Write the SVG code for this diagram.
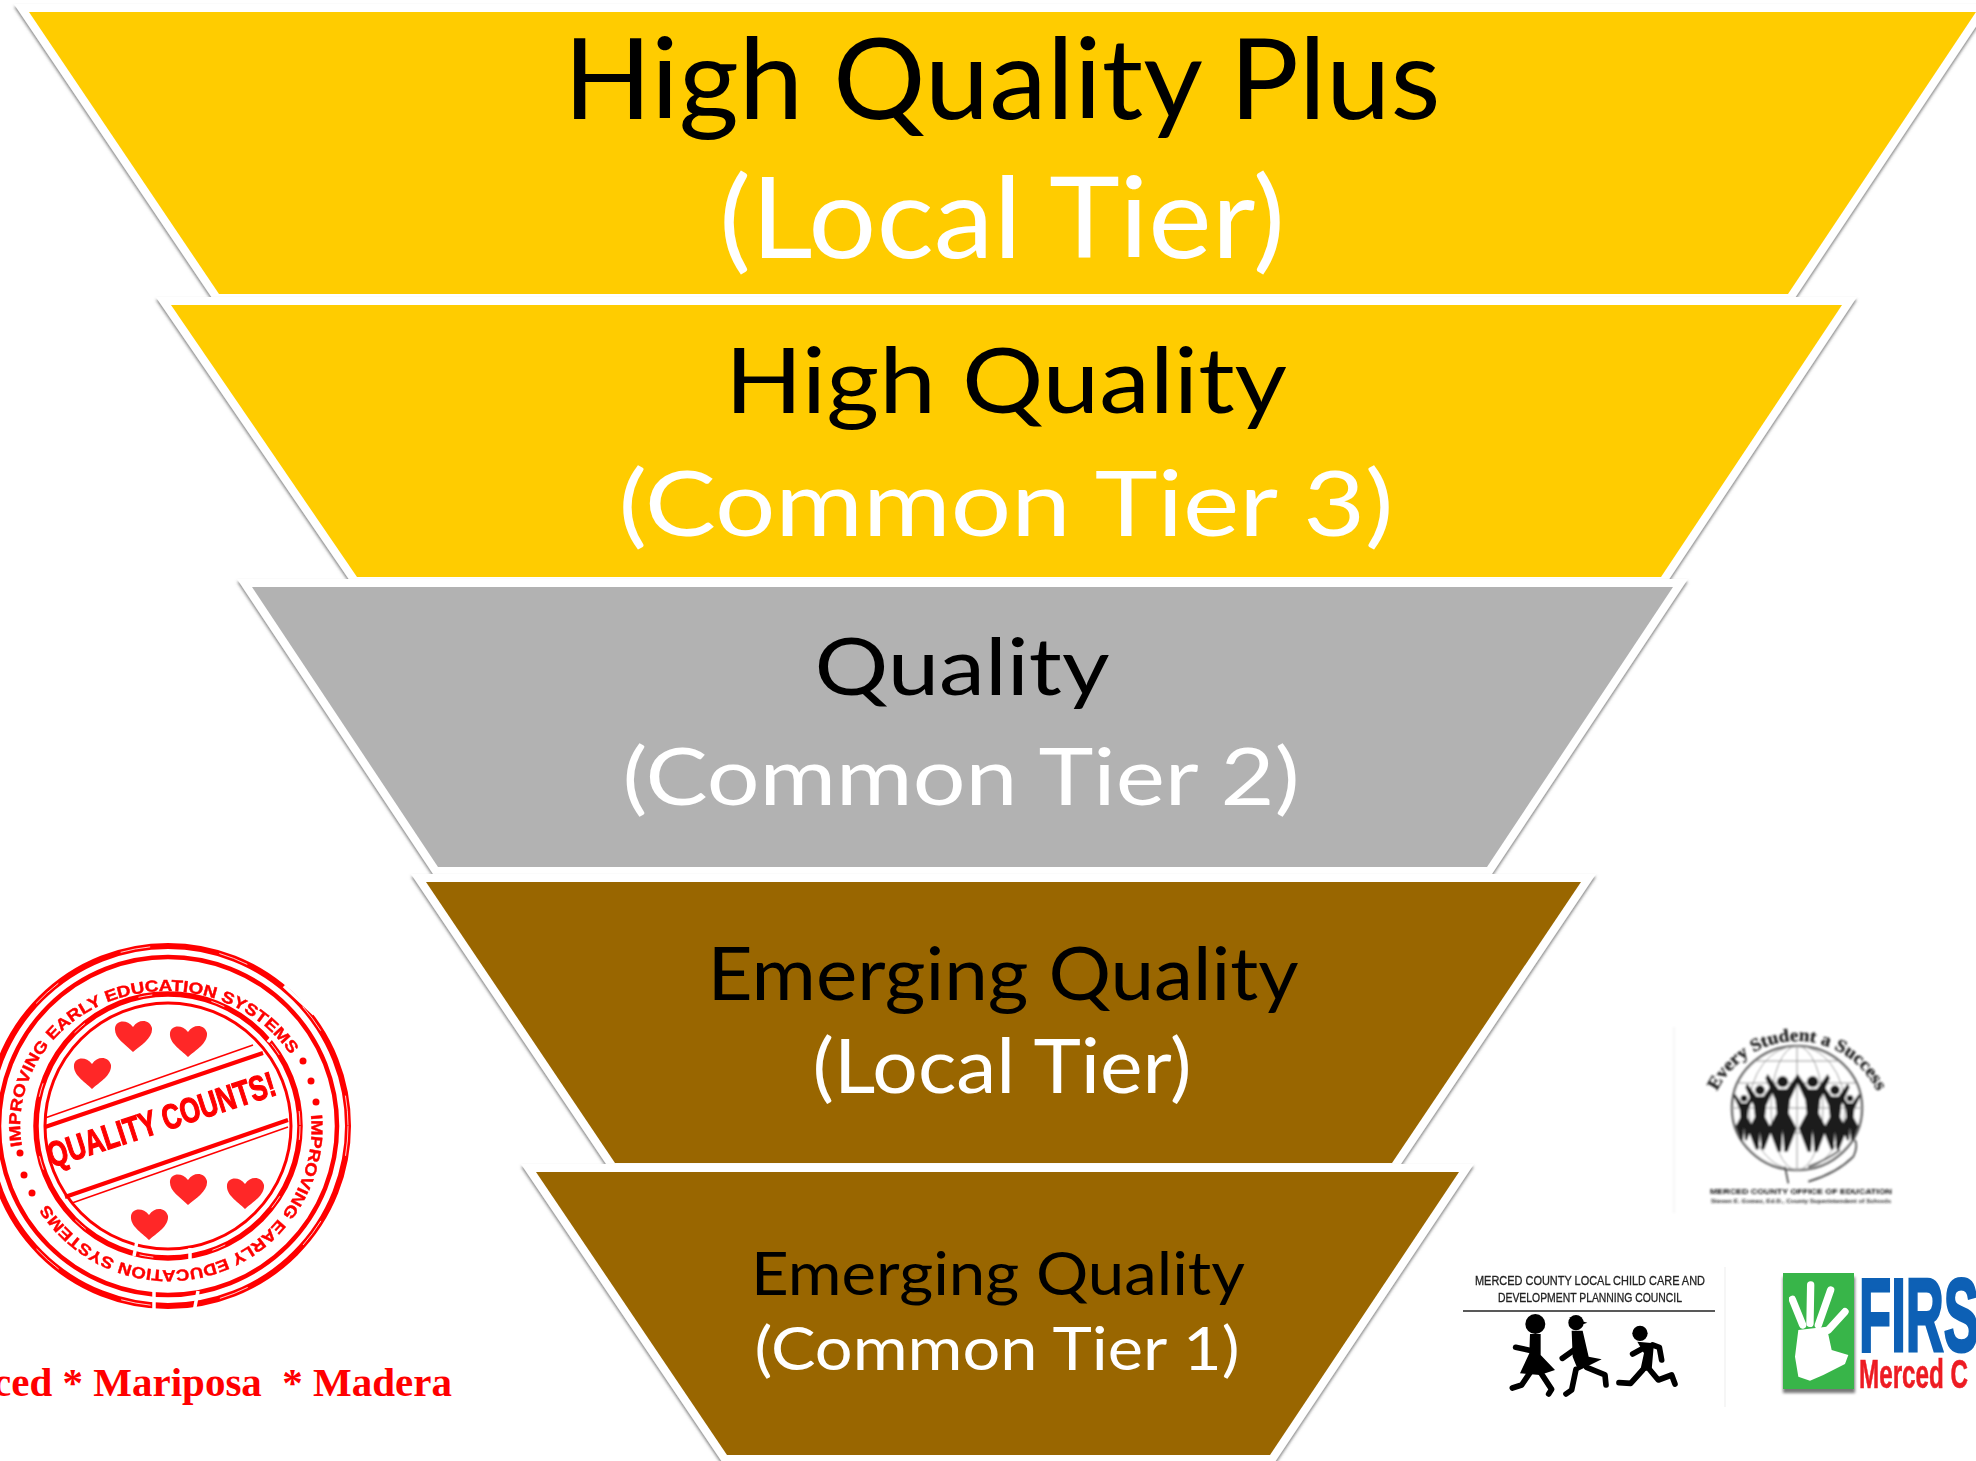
<svg xmlns="http://www.w3.org/2000/svg" width="1976" height="1461" viewBox="0 0 1976 1461">
<defs>
<filter id="sh" x="-5%" y="-5%" width="110%" height="115%"><feDropShadow dx="0" dy="2.5" stdDeviation="1.4" flood-color="#555" flood-opacity="0.75"/></filter>
<filter id="soft" x="-5%" y="-5%" width="110%" height="110%"><feGaussianBlur stdDeviation="0.6"/></filter>
<filter id="soft2" x="-5%" y="-5%" width="110%" height="110%"><feGaussianBlur stdDeviation="0.9"/></filter>
<filter id="soft3" x="-10%" y="-10%" width="120%" height="120%"><feGaussianBlur stdDeviation="1.5"/></filter>
<path id="heart" d="M0,17 C-8,9 -19,3 -18,-7 C-17,-15 -6,-16 0,-8 C6,-17 17,-15 19,-7 C20,3 8,10 0,17 Z"/>
<g id="dancer"><circle cx="0" cy="-95" r="17"/><path d="M-45,-118 L-12,-72 L12,-72 L45,-118 L52,-105 L22,-40 L18,0 L42,45 L15,115 L5,115 L0,50 L-5,115 L-15,115 L-42,45 L-18,0 L-22,-40 L-52,-105 Z"/></g>
<path id="arcTop" d="M-146,20 A146,134 0 0 1 122,-72"/>
<path id="arcBot" d="M143,-11 A143,143 0 0 1 -122,75"/>
<path id="arcEsa" d="M-80,-17 A89,89 0 0 1 80,-17"/>
</defs>
<style>
.tier{stroke:#fff;stroke-width:16;stroke-linejoin:miter;stroke-miterlimit:6;paint-order:stroke;filter:url(#sh)}
.gold{fill:#ffcc00}.gray{fill:#b2b2b2}.brown{fill:#996600}
.t{font-family:"Lato","Carlito","Open Sans",sans-serif;text-anchor:middle}
.k{fill:#000}.w{fill:#fff}
.ring{fill:none;stroke:#f00}
.scr{fill:none;stroke:#fff;stroke-width:0.8}
.st{font-family:"Liberation Sans",Arial,sans-serif;font-weight:bold;fill:#f00;stroke:#f00;stroke-width:.4;font-size:16px}
.gap{stroke:#fff;stroke-width:3.5;fill:none}
</style>
<rect width="1976" height="1461" fill="#fff"/>
<g id="tier-high-quality-plus">
<polygon class="tier gold" points="29,12 219,294 1788,294 1976,12"/>
<text class="t k" x="1002" y="119" font-size="112" textLength="877" lengthAdjust="spacingAndGlyphs">High Quality Plus</text>
<text class="t w" x="1002" y="258" font-size="112" textLength="566" lengthAdjust="spacingAndGlyphs">(Local Tier)</text>
</g>
<g id="tier-high-quality">
<polygon class="tier gold" points="171,305 357,577 1661,577 1842,305"/>
<text class="t k" x="1006" y="413" font-size="92" textLength="562" lengthAdjust="spacingAndGlyphs">High Quality</text>
<text class="t w" x="1006" y="536" font-size="92" textLength="775" lengthAdjust="spacingAndGlyphs">(Common Tier 3)</text>
</g>
<g id="tier-quality">
<polygon class="tier gray" points="252,587 438,867 1487,867 1673,587"/>
<text class="t k" x="962" y="695" font-size="80" textLength="295" lengthAdjust="spacingAndGlyphs">Quality</text>
<text class="t w" x="961" y="805" font-size="80" textLength="677" lengthAdjust="spacingAndGlyphs">(Common Tier 2)</text>
</g>
<g id="tier-emerging-local">
<polygon class="tier brown" points="426,882 615,1163 1392,1163 1581,882"/>
<text class="t k" x="1003" y="1000" font-size="73" textLength="591" lengthAdjust="spacingAndGlyphs">Emerging Quality</text>
<text class="t w" x="1002" y="1093" font-size="75" textLength="379" lengthAdjust="spacingAndGlyphs">(Local Tier)</text>
</g>
<g id="tier-emerging-common">
<polygon class="tier brown" points="536,1172 727,1455 1270,1455 1459,1172"/>
<text class="t k" x="998" y="1295" font-size="60" textLength="494" lengthAdjust="spacingAndGlyphs">Emerging Quality</text>
<text class="t w" x="997" y="1370" font-size="60" textLength="485" lengthAdjust="spacingAndGlyphs">(Common Tier 1)</text>
</g>
<g id="stamp" filter="url(#soft)">
<g transform="translate(168,1126)">
<circle class="ring" r="180" stroke-width="6"/>
<circle class="ring" r="169" stroke-width="4.5"/>
<circle class="ring" r="132" stroke-width="5.5"/>
<circle class="ring" r="123" stroke-width="3"/>
<circle class="scr" r="180" stroke-dasharray="30 70"/>
<circle class="scr" r="132" stroke-dasharray="14 60"/>
<path class="gap" d="M116,-140 L146,-112 M-14,165 L-14,186 M30,165 L26,186 M-34,130 L-30,110 M22,122 L22,142 M100,-84 L110,-96"/>
<text class="st"><textPath href="#arcTop" textLength="386" lengthAdjust="spacingAndGlyphs">IMPROVING EARLY EDUCATION SYSTEMS</textPath></text>
<text class="st"><textPath href="#arcBot" textLength="380" lengthAdjust="spacingAndGlyphs">IMPROVING EARLY EDUCATION SYSTEMS</textPath></text>
</g>
<g fill="#f00">
<circle cx="303" cy="1061" r="3.5"/><circle cx="311" cy="1081" r="3.5"/><circle cx="316" cy="1102" r="3.5"/>
<circle cx="20" cy="1153" r="3.5"/><circle cx="24" cy="1175" r="3.5"/><circle cx="32" cy="1193" r="3.5"/>
<g opacity="0.85">
<use href="#heart" x="133" y="1035"/><use href="#heart" x="188" y="1040"/><use href="#heart" x="92" y="1072"/>
<use href="#heart" x="188" y="1188"/><use href="#heart" x="245" y="1192"/><use href="#heart" x="149" y="1223"/>
</g>
</g>
<g stroke="#f00" fill="none">
<path d="M45,1127 L263,1053" stroke-width="4"/>
<path d="M45,1118 L253,1045" stroke-width="1.5"/>
<path d="M65,1197 L288,1120" stroke-width="4"/>
<path d="M72,1203 L288,1127" stroke-width="1.5"/>
</g>
<text transform="translate(165,1131) rotate(-18)" text-anchor="middle" font-family="Liberation Sans, Arial, sans-serif" font-weight="bold" font-size="35" fill="#f00" stroke="#f00" stroke-width="1.2" textLength="238" lengthAdjust="spacingAndGlyphs">QUALITY COUNTS!</text>
</g>
<g id="county-text">
<text x="452" y="1396" text-anchor="end" xml:space="preserve" font-family="Liberation Serif, Times New Roman, serif" font-weight="bold" font-size="41" fill="#f00">ced * Mariposa  * Madera</text>
</g>
<g id="logo-office-of-education" filter="url(#soft2)">
<line x1="1674" y1="1027" x2="1674" y2="1213" stroke="#f3f3f3" stroke-width="1.5"/>
<g transform="translate(1797,1108)">
<ellipse rx="65" ry="62" fill="#fff" stroke="#666" stroke-width="2.5"/>
<g fill="none" stroke="#999" stroke-width="1"><ellipse rx="26" ry="62"/><ellipse rx="48" ry="62"/><path d="M0,-62 V62 M-58,-25 H58 M-65,0 H65 M-58,25 H58 M-42,-47 H42"/></g>
</g>
<g transform="translate(1670,1010) scale(0.3333)" fill="#1a1a1a">
<use href="#dancer" x="338" y="310"/><use href="#dancer" x="428" y="310"/>
<use href="#dancer" transform="translate(270,321) scale(.85)"/><use href="#dancer" transform="translate(495,321) scale(.85)"/>
<use href="#dancer" transform="translate(222,322) scale(.6)"/><use href="#dancer" transform="translate(540,322) scale(.6)"/>
<path d="M345,470 L355,520 M415,470 Q470,450 510,420 M415,515 Q500,490 550,440 Q565,410 555,390" fill="none" stroke="#444" stroke-width="5"/>
</g>
<text transform="translate(1797,1108)" font-family="Liberation Serif, serif" font-weight="bold" font-size="18" fill="#222" stroke="#222" stroke-width=".3"><textPath href="#arcEsa" textLength="199" lengthAdjust="spacingAndGlyphs">Every Student a Success</textPath></text>
<text x="1710" y="1194" font-family="Liberation Sans, sans-serif" font-weight="bold" font-size="8" fill="#111" textLength="182" lengthAdjust="spacingAndGlyphs">MERCED COUNTY OFFICE OF EDUCATION</text>
<text x="1711" y="1203" font-family="Liberation Sans, sans-serif" font-weight="bold" font-size="6" fill="#222" textLength="180" lengthAdjust="spacingAndGlyphs">Steven E. Gomez, Ed.D., County Superintendent of Schools</text>
</g>
<g id="logo-planning-council" filter="url(#soft)">
<line x1="1725" y1="1267" x2="1725" y2="1407" stroke="#f3f3f3" stroke-width="1.5"/>
<text x="1475" y="1285" font-family="Liberation Sans, sans-serif" font-size="12.5" fill="#222" stroke="#222" stroke-width=".3" textLength="230" lengthAdjust="spacingAndGlyphs">MERCED COUNTY LOCAL CHILD CARE AND</text>
<text x="1498" y="1302" font-family="Liberation Sans, sans-serif" font-size="12.5" fill="#222" stroke="#222" stroke-width=".3" textLength="184" lengthAdjust="spacingAndGlyphs">DEVELOPMENT PLANNING COUNCIL</text>
<line x1="1463" y1="1311" x2="1715" y2="1311" stroke="#222" stroke-width="1.5"/>
<g transform="translate(1450,1260) scale(0.3333)">
<g fill="#000">
<circle cx="256" cy="192" r="30"/>
<path d="M240,222 L272,222 L272,285 L315,330 L270,345 L210,340 L238,280 Z"/>
<circle cx="378" cy="188" r="23"/><path d="M358,172 L412,188 L378,200 Z"/>
<path d="M365,212 L398,212 L416,290 L455,298 L385,332 L368,290 Z"/>
<circle cx="570" cy="220" r="23"/>
<path d="M562,245 L612,250 L605,330 L570,335 L582,280 Z"/>
</g>
<g fill="none" stroke="#000" stroke-width="17" stroke-linecap="round" stroke-linejoin="round">
<path d="M197,262 L245,272"/><path d="M240,338 L215,375 L187,384"/><path d="M272,338 L305,388 L296,402"/>
<path d="M337,295 L375,268"/><path d="M378,328 L365,390 L348,402"/><path d="M410,322 L465,345 L468,375"/>
<path d="M608,255 L628,262 L635,300"/><path d="M585,262 L548,282"/><path d="M578,330 L542,370 L507,368"/><path d="M600,330 L625,360 L665,345 L675,372"/>
</g>
</g>
</g>
<g id="logo-first5">
<rect x="1783" y="1277" width="72" height="116" fill="#777" filter="url(#soft3)"/>
<g filter="url(#soft)">
<rect x="1783" y="1273" width="71" height="116" fill="#39b54a"/>
<text x="1859" y="1351" font-family="Liberation Sans, sans-serif" font-weight="bold" font-size="104" fill="#0b60b5" stroke="#0b60b5" stroke-width="3" textLength="120" lengthAdjust="spacingAndGlyphs">FIRS</text>
<text x="1859" y="1388" font-family="Liberation Sans, sans-serif" font-weight="bold" font-size="40" fill="#ed1c24" stroke="#ed1c24" stroke-width=".6" textLength="109" lengthAdjust="spacingAndGlyphs">Merced C</text>
</g>
<g transform="translate(1760,1260) scale(0.3333)" filter="url(#soft2)">
<path d="M115,210 L200,200 L215,270 L265,285 L255,312 L190,345 L150,362 L115,350 L105,290 Z" fill="#fff"/>
<g fill="none" stroke="#fff" stroke-width="22" stroke-linecap="round"><path d="M128,195 L97,118"/><path d="M150,190 L152,75"/><path d="M175,195 L212,90"/><path d="M205,210 L255,155"/></g>
</g>
</g>
</svg>
